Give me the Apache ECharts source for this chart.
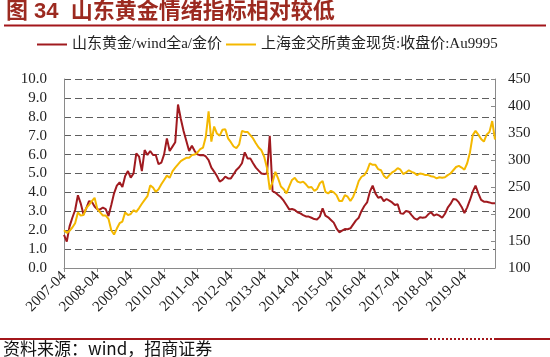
<!DOCTYPE html>
<html><head><meta charset="utf-8">
<script src="https://cdn.jsdelivr.net/npm/echarts@6/dist/echarts.min.js"></script>
<style>html,body{margin:0;padding:0;background:#fff}#c{width:550px;height:357px}</style>
</head><body><div id="c"></div>
<script>
const titleText = '图 34  山东黄金情绪指标相对较低';
const sourceText = '资料来源：wind，招商证券';
const ratioName = '山东黄金/wind全a/金价';
const goldName = '上海金交所黄金现货:收盘价:Au9995';

// monthly categories 2007-04 .. 2020-03
const categories = [];
for (let i = 0; i < 156; i++) {
  const y = 2007 + Math.floor((3 + i) / 12);
  const m = ((3 + i) % 12) + 1;
  categories.push(y + '-' + (m < 10 ? '0' + m : m));
}

const ratioValues = [
1.75,1.4,2.2,2.66,3.07,3.85,3.42,2.84,3.16,3.54,
3.5,3.25,3.1,3.1,3.2,3.12,2.75,3.33,3.95,4.36,
4.53,4.29,4.87,5.13,4.78,5.0,6.07,5.89,5.13,6.24,
5.98,6.19,5.98,5.98,5.49,5.57,6.01,6.86,6.19,6.42,
6.65,8.65,7.9,7.25,6.72,6.19,6.47,6.19,6.01,5.96,
5.98,5.9,5.71,5.31,5.1,4.87,4.57,4.66,4.83,4.74,
4.74,4.96,5.19,5.33,5.54,6.12,5.8,5.8,5.54,5.31,
5.15,5.0,4.97,5.0,7.0,4.07,3.99,3.86,3.74,3.56,
3.33,3.1,3.12,3.07,2.95,2.89,2.8,2.73,2.72,2.66,
2.59,2.57,2.72,3.16,2.77,2.68,2.54,2.4,2.1,1.89,
1.98,2.06,2.05,2.1,2.31,2.52,2.66,3.02,3.28,3.47,
4.04,4.36,3.95,3.72,3.77,3.54,3.65,3.56,3.47,3.33,
3.37,2.89,2.87,3.02,2.98,2.8,2.63,2.56,2.68,2.66,
2.68,2.84,2.95,2.77,2.84,2.77,2.66,2.87,3.19,3.39,
3.65,3.63,3.47,3.23,2.91,3.21,3.6,4.04,4.36,3.95,
3.6,3.51,3.51,3.47,3.42,3.42
];

const goldValues = [
170,165,169,175,183,203,197,198,211,217,
224,230,209,203,197,197,191,170,162,173,
183,186,203,198,200,207,204,211,219,226,
233,253,249,241,246,255,263,271,267,279,
286,292,298,301,304,304,309,310,314,320,
323,343,390,334,362,349,345,356,357,340,
333,325,322,329,354,352,352,346,340,331,
323,318,306,285,245,259,278,266,251,246,
238,251,263,267,260,258,260,255,249,250,
243,246,257,261,241,238,243,240,235,224,
224,235,232,224,232,245,261,269,272,280,
294,291,291,283,281,271,266,272,277,280,
285,282,274,277,281,278,276,272,275,274,
272,272,270,269,266,268,267,268,272,275,
281,287,289,286,282,294,314,346,354,347,
339,334,347,352,372,338
];

const leftAxis = {min: 0, max: 10, interval: 1};
const rightAxis = {min: 100, max: 450, interval: 50};

const RED = '#A01A1F';
const GOLD = '#F4B800';
const AXIS = '#8a8a8a';
const SERIF = '"Liberation Serif", "Noto Sans CJK SC", serif';

const chart = echarts.init(document.getElementById('c'), null, {renderer: 'canvas'});
chart.setOption({
  animation: false,
  backgroundColor: '#fff',
  graphic: [
    {type: 'text', left: 6, top: 1, style: {text: titleText, fill: '#9C2A20',
      font: 'bold 22px "Liberation Sans", "Noto Sans CJK SC", sans-serif'}},
    {type: 'line', shape: {x1: 4, y1: 25.5, x2: 546, y2: 25.5}, style: {stroke: '#A3161B', lineWidth: 2}},
    {type: 'line', shape: {x1: 0, y1: 339, x2: 426, y2: 339}, style: {stroke: '#A3161B', lineWidth: 2}},
    {type: 'line', shape: {x1: 426, y1: 339, x2: 495, y2: 339}, style: {stroke: '#A3161B', lineWidth: 2, lineDash: [2, 2]}},
    {type: 'line', shape: {x1: 495, y1: 339, x2: 550, y2: 339}, style: {stroke: '#A3161B', lineWidth: 2}},
    {type: 'text', left: 3, top: 340, style: {text: sourceText, fill: '#111',
      font: '17px "Noto Sans CJK SC", sans-serif'}}
  ],
  legend: {
    top: 37, left: 37, padding: 0, itemWidth: 30, itemHeight: 2, itemGap: 4, icon: 'rect',
    textStyle: {fontSize: 15, fontFamily: SERIF, color: '#222'},
    data: [ratioName, goldName]
  },
  grid: {left: 64, right: 55, top: 79, bottom: 89, containLabel: false},
  xAxis: {
    type: 'category', data: categories, boundaryGap: false,
    axisLine: {lineStyle: {color: AXIS, width: 1}},
    axisTick: {show: true, interval: 11, length: 4, lineStyle: {color: AXIS}},
    axisLabel: {interval: 11, rotate: 45, fontSize: 15, fontFamily: SERIF, color: '#222', margin: 6},
    splitLine: {show: false}
  },
  yAxis: [
    {type: 'value', position: 'left', min: leftAxis.min, max: leftAxis.max, interval: leftAxis.interval,
      axisLine: {show: true, lineStyle: {color: AXIS}},
      axisTick: {show: false},
      axisLabel: {formatter: v => v.toFixed(1), fontSize: 15, fontFamily: SERIF, color: '#222', margin: 17},
      splitLine: {show: true, lineStyle: {color: '#5e5e5e', width: 1, type: [7, 4]}}},
    {type: 'value', position: 'right', min: rightAxis.min, max: rightAxis.max, interval: rightAxis.interval,
      axisLine: {show: true, lineStyle: {color: AXIS}},
      axisTick: {show: true, inside: true, length: 4, lineStyle: {color: AXIS}},
      axisLabel: {fontSize: 15, fontFamily: SERIF, color: '#222', margin: 13},
      splitLine: {show: false}}
  ],
  series: [
    {name: ratioName, type: 'line', yAxisIndex: 0, data: ratioValues, showSymbol: false,
      lineStyle: {color: RED, width: 2}, itemStyle: {color: RED}},
    {name: goldName, type: 'line', yAxisIndex: 1, data: goldValues, showSymbol: false,
      lineStyle: {color: GOLD, width: 2}, itemStyle: {color: GOLD}}
  ]
});
</script></body></html>
